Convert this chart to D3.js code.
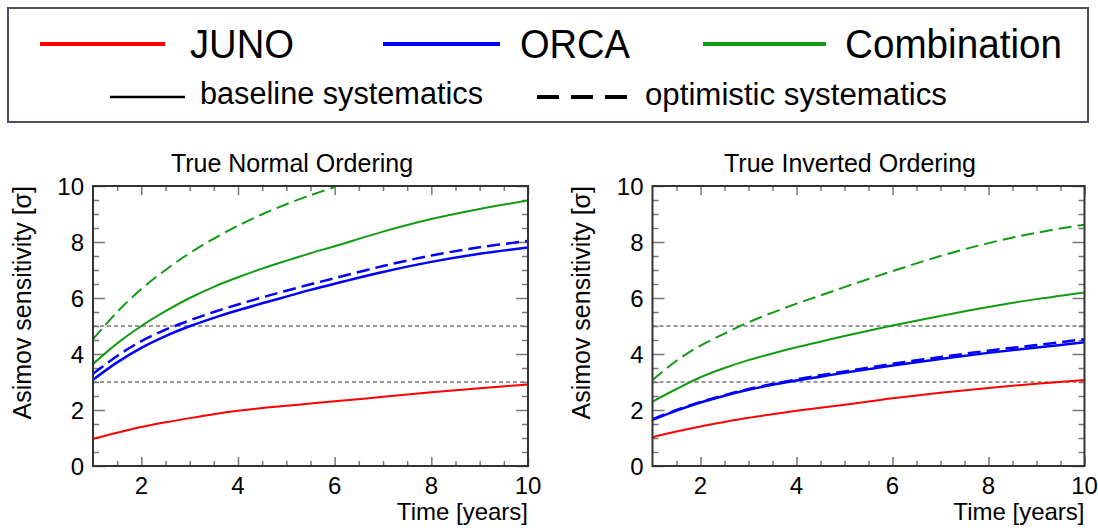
<!DOCTYPE html>
<html>
<head>
<meta charset="utf-8">
<script src="https://cdn.jsdelivr.net/npm/d3@7"></script>
<style>
  html, body { margin: 0; padding: 0; background: #fff; }
  svg { display: block; font-family: "Liberation Sans", Arial, Helvetica, sans-serif; }
</style>
</head>
<body>
<svg id="chart" width="1098" height="530"></svg>
<script>
// ---------------- data ----------------
const years = [1, 1.5, 2, 2.5, 3, 3.5, 4, 4.5, 5, 5.5, 6, 7, 8, 9, 10];
const yearsShort = [1, 1.5, 2, 2.5, 3, 3.5, 4, 4.5, 5, 5.5, 6];

// True Normal Ordering
const junoNO     = [0.97, 1.19, 1.39, 1.56, 1.71, 1.85, 1.97, 2.07, 2.15, 2.23, 2.31, 2.47, 2.63, 2.78, 2.91];
const orcaNO     = [3.08, 3.70, 4.22, 4.64, 4.99, 5.29, 5.56, 5.81, 6.05, 6.29, 6.51, 6.93, 7.29, 7.58, 7.80];
const orcaNOopt  = [3.29, 3.93, 4.46, 4.87, 5.20, 5.50, 5.77, 6.02, 6.26, 6.49, 6.71, 7.14, 7.52, 7.81, 8.04];
const combNO     = [3.64, 4.38, 5.00, 5.53, 6.00, 6.40, 6.74, 7.05, 7.33, 7.60, 7.85, 8.37, 8.82, 9.18, 9.48];
const combNOopt  = [4.53, 5.50, 6.32, 7.00, 7.60, 8.12, 8.58, 8.99, 9.35, 9.67, 9.96];

// True Inverted Ordering
const junoIO     = [1.03, 1.23, 1.41, 1.57, 1.72, 1.85, 1.97, 2.08, 2.19, 2.30, 2.42, 2.62, 2.79, 2.94, 3.07];
const orcaIO     = [1.65, 1.98, 2.27, 2.51, 2.72, 2.90, 3.05, 3.19, 3.33, 3.46, 3.59, 3.82, 4.04, 4.23, 4.42];
const orcaIOopt  = [1.67, 2.00, 2.29, 2.53, 2.75, 2.93, 3.09, 3.24, 3.38, 3.51, 3.65, 3.89, 4.12, 4.32, 4.53];
const combIO     = [2.30, 2.75, 3.17, 3.50, 3.78, 4.02, 4.24, 4.44, 4.64, 4.83, 5.02, 5.36, 5.68, 5.96, 6.20];
const combIOopt  = [3.07, 3.76, 4.30, 4.73, 5.13, 5.48, 5.80, 6.09, 6.39, 6.68, 6.96, 7.50, 7.96, 8.33, 8.62];

const refLevels = [3, 5];
const xTicks = [2, 4, 6, 8, 10];
const yTicks = [0, 2, 4, 6, 8, 10];
const panelTitles = ["True Normal Ordering", "True Inverted Ordering"];
const xLabel = "Time [years]";
const yLabel = "Asimov sensitivity [\u03c3]";
const legendExperiments = ["JUNO", "ORCA", "Combination"];
const legendStyles = ["baseline systematics", "optimistic systematics"];

// ---------------- styles ----------------
const RED = "#ff0000", BLUE = "#0000ff", GREEN = "#129b12";
const colors = { JUNO: RED, ORCA: BLUE, Combination: GREEN };
const FS_TITLE = 25, FS_TICK = 24, FS_AXIS = 24;

const svg = d3.select("#chart");

// ---------------- legend ----------------
const leg = svg.append("g");
leg.append("rect").attr("x", 8).attr("y", 8).attr("width", 1080).attr("height", 114)
  .attr("fill", "#fff").attr("stroke", "#4a5262").attr("stroke-width", 2);

const row1 = [
  { name: legendExperiments[0], x1: 40, x2: 165, tx: 190, tw: 104 },
  { name: legendExperiments[1], x1: 383, x2: 500, tx: 520, tw: 110 },
  { name: legendExperiments[2], x1: 703, x2: 826, tx: 845, tw: 217 }
];
row1.forEach(e => {
  leg.append("line").attr("x1", e.x1).attr("x2", e.x2).attr("y1", 44).attr("y2", 44)
    .attr("stroke", colors[e.name]).attr("stroke-width", 4);
  leg.append("text").attr("x", e.tx).attr("y", 58).attr("font-size", 40)
    .attr("textLength", e.tw).attr("lengthAdjust", "spacingAndGlyphs")
    .attr("fill", "#000").text(e.name);
});
leg.append("line").attr("x1", 110).attr("x2", 185).attr("y1", 97).attr("y2", 97)
  .attr("stroke", "#000").attr("stroke-width", 2.5);
leg.append("text").attr("x", 200).attr("y", 104).attr("font-size", 31)
  .attr("textLength", 283).attr("lengthAdjust", "spacingAndGlyphs").text(legendStyles[0]);
leg.append("line").attr("x1", 537).attr("x2", 627).attr("y1", 97).attr("y2", 97)
  .attr("stroke", "#000").attr("stroke-width", 4).attr("stroke-dasharray", "22,12");
leg.append("text").attr("x", 645).attr("y", 105).attr("font-size", 31)
  .attr("textLength", 302).attr("lengthAdjust", "spacingAndGlyphs").text(legendStyles[1]);

// ---------------- panels ----------------
function drawPanel(cfg) {
  const x = d3.scaleLinear().domain([1, 10]).range([cfg.left, cfg.right]);
  const y = d3.scaleLinear().domain([0, 10]).range([466, 186]);
  const g = svg.append("g");

  // title
  g.append("text").attr("x", cfg.titleX).attr("y", 172).attr("text-anchor", "middle")
    .attr("font-size", FS_TITLE).text(cfg.title);

  // reference dashed lines
  refLevels.forEach(v => {
    g.append("line").attr("x1", x(1)).attr("x2", x(10)).attr("y1", y(v)).attr("y2", y(v))
      .attr("stroke", "#333").attr("stroke-width", 1).attr("stroke-dasharray", "4,3");
  });

  // ticks (all four sides), ROOT-style inward
  const tickColor = "#777";
  const xMinor = d3.range(1.5, 10, 0.5).filter(v => !xTicks.includes(v));
  const yMinor = d3.range(0.5, 10, 0.5).filter(v => !yTicks.includes(v));
  const defs = [
    [d3.axisBottom(x).tickValues(xTicks).tickSize(-9), `translate(0,${y(0)})`],
    [d3.axisBottom(x).tickValues(xMinor).tickSize(-5), `translate(0,${y(0)})`],
    [d3.axisTop(x).tickValues(xTicks).tickSize(-9), `translate(0,${y(10)})`],
    [d3.axisTop(x).tickValues(xMinor).tickSize(-5), `translate(0,${y(10)})`],
    [d3.axisLeft(y).tickValues(yTicks).tickSize(-12), `translate(${x(1)},0)`],
    [d3.axisLeft(y).tickValues(yMinor).tickSize(-6), `translate(${x(1)},0)`],
    [d3.axisRight(y).tickValues(yTicks).tickSize(-12), `translate(${x(10)},0)`],
    [d3.axisRight(y).tickValues(yMinor).tickSize(-6), `translate(${x(10)},0)`]
  ];
  const ax = g.append("g");
  defs.forEach(([a, t]) => {
    const gg = ax.append("g").attr("transform", t).call(a.tickFormat(""));
    gg.select(".domain").remove();
    gg.selectAll(".tick line").attr("stroke", tickColor).attr("stroke-width", 1.5);
  });

  // curves
  const line = d3.line().x(d => x(d[0])).y(d => y(d[1])).curve(d3.curveCatmullRom.alpha(0.5));
  cfg.series.forEach(s => {
    const pts = s.xs.map((t, i) => [t, s.values[i]]);
    g.append("path").datum(pts).attr("d", line).attr("fill", "none")
      .attr("stroke", s.color).attr("stroke-width", s.width)
      .attr("stroke-dasharray", s.dashed ? "13,6" : null);
  });

  // frame
  g.append("rect").attr("x", x(1)).attr("y", y(10)).attr("width", x(10) - x(1)).attr("height", y(0) - y(10))
    .attr("fill", "none").attr("stroke", "#333").attr("stroke-width", 2);

  // tick labels
  xTicks.forEach(v => {
    g.append("text").attr("x", x(v)).attr("y", 494).attr("text-anchor", "middle")
      .attr("font-size", FS_TICK).text(v);
  });
  yTicks.forEach(v => {
    g.append("text").attr("x", x(1) - 9).attr("y", y(v)).attr("dy", "0.36em").attr("text-anchor", "end")
      .attr("font-size", FS_TICK).text(v);
  });

  // axis titles
  g.append("text").attr("x", x(10)).attr("y", 520).attr("text-anchor", "end")
    .attr("font-size", FS_AXIS).text(xLabel);
  g.append("text").attr("transform", `translate(${cfg.yLabelX},186) rotate(-90)`)
    .attr("text-anchor", "end").attr("font-size", FS_TITLE).text(yLabel);
}

drawPanel({
  left: 93, right: 528, titleX: 292, yLabelX: 31, title: panelTitles[0],
  series: [
    { xs: years, values: junoNO, color: RED, width: 2 },
    { xs: years, values: orcaNOopt, color: BLUE, width: 2.5, dashed: true },
    { xs: years, values: orcaNO, color: BLUE, width: 2.5 },
    { xs: years, values: combNO, color: GREEN, width: 2 },
    { xs: yearsShort, values: combNOopt, color: GREEN, width: 2, dashed: true }
  ]
});
drawPanel({
  left: 652.5, right: 1084.5, titleX: 850, yLabelX: 590, title: panelTitles[1],
  series: [
    { xs: years, values: junoIO, color: RED, width: 2 },
    { xs: years, values: orcaIOopt, color: BLUE, width: 2.5, dashed: true },
    { xs: years, values: orcaIO, color: BLUE, width: 2.5 },
    { xs: years, values: combIO, color: GREEN, width: 2 },
    { xs: years, values: combIOopt, color: GREEN, width: 2, dashed: true }
  ]
});
</script>
</body>
</html>
